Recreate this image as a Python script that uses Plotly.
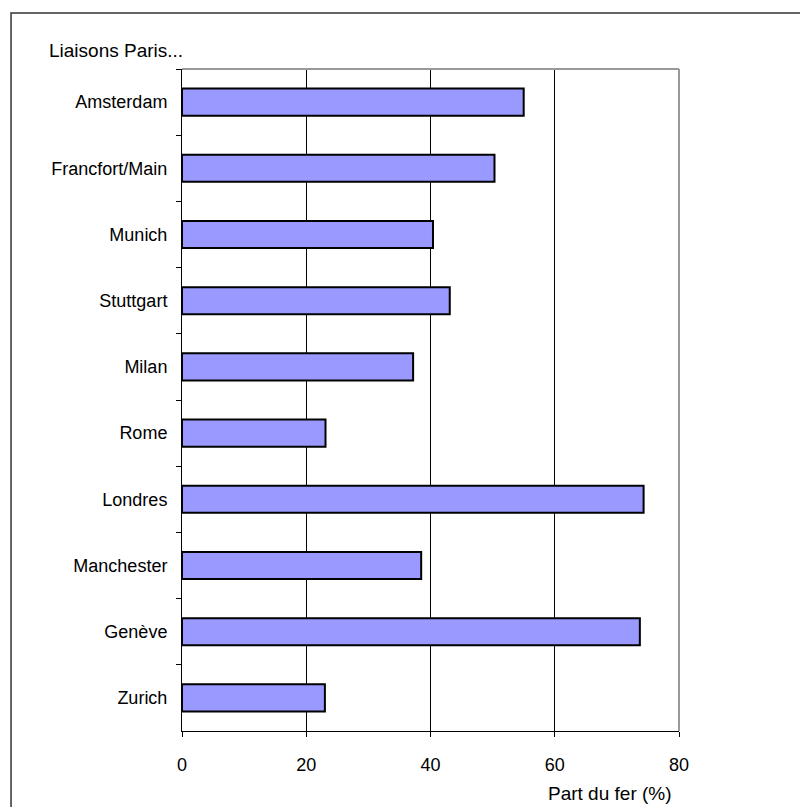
import plotly.graph_objects as go

cities = ["Amsterdam", "Francfort/Main", "Munich", "Stuttgart", "Milan", "Rome",
          "Londres", "Manchester", "Genève", "Zurich"]
part_fer = [55.0, 50.3, 40.4, 43.1, 37.2, 23.1, 74.3, 38.5, 73.7, 23.0]
x_ticks = [0, 20, 40, 60, 80]

FONT = "Liberation Sans, Arial, sans-serif"

fig = go.Figure(go.Bar(
    y=cities, x=part_fer, orientation="h",
    marker=dict(color="#9999FF", line=dict(color="black", width=2)),
    width=0.41,
))

fig.update_layout(
    width=800, height=807,
    margin=dict(l=182, r=121, t=69, b=76),
    paper_bgcolor="white", plot_bgcolor="white",
    font=dict(family=FONT, size=18, color="black"),
    showlegend=False,
    xaxis=dict(
        range=[0, 80], tickvals=x_ticks, ticktext=[str(v) for v in x_ticks],
        showgrid=True, gridcolor="black", gridwidth=1,
        showline=True, linecolor="black", linewidth=1,
        ticks="outside", ticklen=5, tickcolor="black",
        ticklabelstandoff=12, zeroline=False,
        tickfont=dict(family=FONT, size=18),
    ),
    yaxis=dict(
        type="category", categoryorder="array", categoryarray=cities,
        autorange="reversed",
        showgrid=False, showline=True, linecolor="black", linewidth=1,
        ticks="outside", ticklen=5, tickcolor="black", tickson="boundaries",
        ticklabelstandoff=10, zeroline=False,
        tickfont=dict(family=FONT, size=18),
    ),
    shapes=[
        # plot-area frame (top and right edges, gray)
        dict(type="line", xref="paper", yref="paper", x0=0, x1=1, y0=1, y1=1,
             line=dict(color="#999999", width=2), layer="above"),
        dict(type="line", xref="paper", yref="paper", x0=1, x1=1, y0=0, y1=1,
             line=dict(color="#999999", width=2), layer="above"),
        # outer chart frame
        dict(type="rect", xref="paper", yref="paper",
             x0=-0.344, x1=1.26, y0=-0.13, y1=1.0846,
             line=dict(color="#333333", width=1.5), layer="below"),
    ],
    annotations=[
        dict(text="Liaisons Paris...", xref="paper", yref="paper",
             x=-0.272, y=1.0287, xanchor="left", yanchor="middle",
             showarrow=False, font=dict(family=FONT, size=19)),
        dict(text="Part du fer (%)", xref="paper", yref="paper",
             x=0.99, y=-0.0937, xanchor="right", yanchor="middle",
             showarrow=False, font=dict(family=FONT, size=19)),
    ],
)

fig.write_html("out.html")
